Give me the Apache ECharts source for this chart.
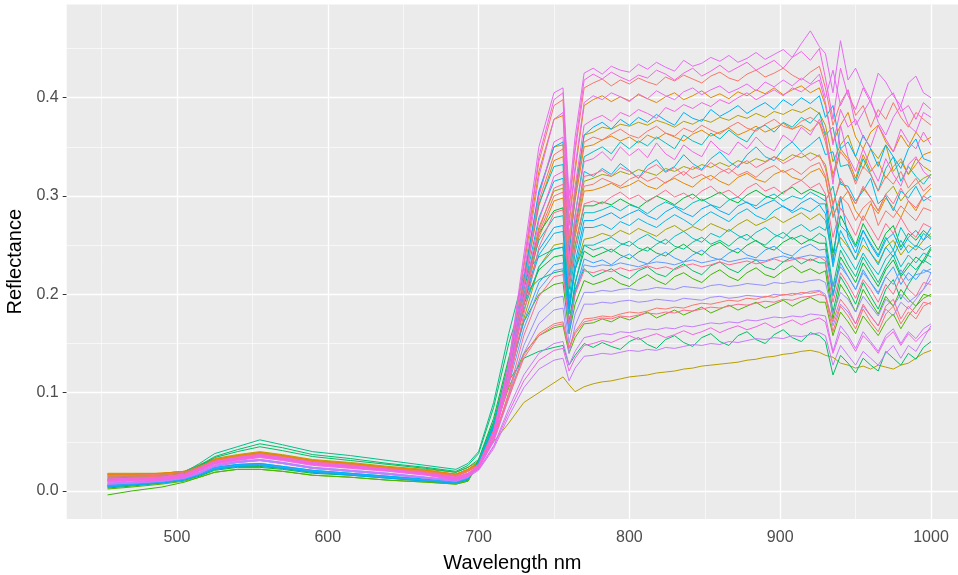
<!DOCTYPE html>
<html><head><meta charset="utf-8">
<script src="https://cdn.jsdelivr.net/npm/echarts@6/dist/echarts.min.js"></script>
<style>html,body{margin:0;padding:0;background:#fff}#c{width:958px;height:575px}</style>
</head><body><div id="c"></div>
<script>
const wavelengths = [454,470,490,505,515,525,540,555,570,590,615,640,665,685,693,700,710,720,730,740,750,756,760,764,770,776,782,788,794,800,806,812,818,824,830,836,842,848,854,860,866,872,878,884,890,896,902,908,914,920,926,930,935,940,945,950,955,960,965,970,975,980,985,990,995,1000];
// reflectance values in thousandths
const s01 = [12,13,14,17,23,30,34,37,34,29,26,22,18,14,18,26,60,130,240,350,405,410,300,360,425,430,424,432,428,426,434,429,436,431,427,438,432,435,441,437,443,436,440,446,439,444,449,441,455,468,452,445,405,458,418,430,412,398,425,416,402,392,415,422,405,400];
const s02 = [11,12,13,16,22,29,33,36,33,28,25,22,18,13,17,25,58,125,232,340,398,405,290,350,418,424,419,426,421,417,423,420,428,424,418,425,430,422,427,433,426,431,436,428,433,438,430,441,447,438,450,420,378,430,402,388,410,395,380,398,405,386,392,378,395,388];
const s03 = [16,16,17,19,25,31,35,38,35,30,27,23,20,16,21,27,62,128,230,335,392,398,285,345,410,415,419,412,418,414,420,416,413,421,417,423,419,415,422,426,420,417,424,428,421,425,430,423,418,426,432,410,372,395,408,382,392,370,388,378,395,380,370,385,378,372];
const s04 = [10,11,12,15,21,28,32,35,32,27,24,21,17,12,16,24,55,118,220,320,378,385,275,330,395,402,398,405,401,396,404,399,407,402,398,406,410,403,408,412,405,409,414,407,416,411,418,412,420,414,424,400,428,392,408,372,385,398,375,362,380,392,372,365,385,380];
const s05 = [17,17,18,20,26,32,36,39,36,31,28,24,21,17,22,28,64,130,228,325,378,382,270,325,392,398,402,396,401,397,403,399,395,401,405,398,402,407,400,404,399,406,402,408,404,410,403,408,412,405,410,392,355,372,385,360,348,365,372,355,345,362,350,365,355,360];
const s06 = [9,10,11,14,20,27,31,34,31,26,23,20,16,11,15,23,52,112,205,300,355,360,260,310,372,378,382,376,385,381,388,384,379,390,386,393,389,395,391,398,394,400,405,398,403,408,402,410,406,413,418,395,352,388,370,378,360,350,372,358,345,368,355,348,365,352];
const s07 = [6,8,10,13,18,24,27,28,25,21,18,15,12,10,14,26,62,125,215,305,350,355,240,300,362,370,375,368,378,372,380,375,383,377,372,385,379,376,388,381,386,392,384,390,395,388,398,392,400,394,402,380,392,348,355,340,362,348,330,352,340,328,348,358,338,335];
const s08 = [18,18,18,20,27,33,37,40,37,32,29,25,22,19,24,30,66,128,218,303,350,352,255,305,362,365,370,368,373,371,375,372,377,374,370,376,373,378,375,380,377,382,379,384,380,386,383,388,385,390,384,372,335,352,362,340,328,348,338,352,325,335,322,338,330,325];
const s09 = [15,15,16,18,24,30,34,37,34,29,26,22,19,15,20,26,60,120,210,295,342,348,250,300,355,360,357,363,368,362,359,366,371,364,361,369,365,372,367,363,370,375,369,366,373,378,371,368,376,380,374,355,318,345,335,312,330,322,305,320,312,325,308,318,305,312];
const s10 = [17,17,18,20,26,32,36,39,36,31,28,24,21,17,22,28,63,122,208,290,336,340,245,295,350,352,357,361,356,360,354,362,358,364,360,356,363,367,361,365,369,362,366,371,365,369,374,368,372,366,375,360,322,348,338,318,342,325,335,318,330,338,322,332,342,345];
const s11 = [5,7,9,12,17,23,26,27,24,20,17,14,11,9,13,28,66,130,215,292,330,332,220,280,340,345,350,343,355,348,356,351,360,354,348,362,356,352,364,358,367,360,355,368,372,365,375,370,380,374,385,362,370,330,332,315,338,322,305,328,340,315,330,320,312,322];
const s12 = [10,11,12,15,21,28,32,35,32,27,24,21,17,12,16,24,54,112,195,275,320,325,235,280,335,338,345,336,350,341,348,339,354,343,337,352,345,340,356,347,342,355,348,360,351,346,362,355,370,362,378,365,312,372,340,325,348,330,315,338,322,310,332,340,325,318];
const s13 = [11,12,13,16,22,29,33,36,33,28,25,22,18,13,17,25,55,110,190,265,308,312,230,272,320,322,326,320,329,325,318,327,332,324,329,321,330,326,334,328,323,331,336,329,334,340,333,338,344,336,342,328,290,318,305,292,310,298,285,302,292,308,295,288,300,295];
const s14 = [6,8,10,13,18,24,27,28,25,21,18,15,12,10,14,27,63,125,205,278,315,318,210,265,325,320,328,322,333,326,318,331,337,325,330,342,333,327,338,345,335,329,342,350,340,336,348,355,345,352,360,342,345,312,310,295,305,318,292,300,285,305,298,310,295,300];
const s15 = [16,16,17,19,25,31,35,38,35,30,27,23,20,16,21,28,62,118,195,268,305,308,225,268,315,318,322,320,325,322,327,324,321,328,325,330,327,332,329,334,330,336,333,338,335,340,336,342,339,344,340,332,292,315,305,292,308,298,285,302,310,295,305,312,318,322];
const s16 = [14,14,15,17,23,29,33,36,33,28,25,22,19,15,20,26,58,112,190,262,300,304,222,262,310,312,318,314,310,317,321,315,319,313,320,325,318,322,316,324,328,321,325,319,327,331,324,328,322,330,334,320,278,300,292,275,288,295,270,285,278,290,282,275,288,285];
const s17 = [17,17,18,20,26,32,36,39,36,31,28,24,21,17,22,28,62,115,188,258,295,298,218,258,305,306,309,313,308,311,316,310,307,314,318,313,309,317,321,315,311,319,323,317,314,322,326,319,316,324,328,318,280,295,305,285,275,292,282,298,288,278,295,285,300,308];
const s18 = [12,13,14,17,23,30,34,37,34,29,26,22,18,14,18,25,56,108,180,248,283,286,208,248,292,295,292,299,304,297,301,294,300,306,299,303,297,305,310,302,306,299,308,313,305,309,302,311,316,308,313,302,258,288,275,260,280,268,255,272,262,278,265,258,272,268];
const s19 = [4,6,9,12,16,22,25,25,23,19,17,14,11,9,12,30,70,130,205,262,285,288,205,250,290,290,294,291,297,292,288,295,300,296,291,298,302,295,299,304,297,293,301,306,300,297,304,309,302,307,303,300,242,280,265,250,272,258,245,262,270,248,262,255,265,258];
const s20 = [5,7,9,12,17,23,26,27,24,20,17,14,11,9,13,30,68,128,200,255,278,280,195,242,283,283,286,290,285,291,288,282,289,294,290,286,293,297,291,288,296,299,293,290,298,302,295,300,297,304,299,295,310,270,262,248,265,252,240,258,245,268,255,248,262,256];
const s21 = [4,6,8,11,16,22,25,26,23,19,16,13,10,8,12,28,64,122,192,245,268,270,185,232,275,275,279,283,277,282,286,280,276,284,289,283,279,287,291,285,281,290,294,287,292,296,289,285,293,298,292,292,232,300,258,242,265,250,238,255,262,245,258,265,255,268];
const s22 = [5,7,9,12,17,23,26,27,24,20,17,14,11,9,13,29,66,124,190,240,262,264,180,225,268,268,271,266,274,270,277,272,268,275,281,276,270,278,284,279,274,282,287,280,276,285,290,283,288,284,291,282,228,265,250,235,258,242,230,248,238,255,242,250,245,250];
const s23 = [15,15,16,18,24,30,34,37,34,29,26,22,19,15,20,28,60,112,175,228,250,252,185,225,256,258,262,259,265,261,267,263,259,266,270,264,269,265,272,268,264,271,276,270,274,279,273,278,283,276,282,275,238,258,248,235,250,242,232,248,255,240,250,245,255,262];
const s24 = [5,7,9,12,17,23,26,27,24,20,17,14,11,9,13,30,68,124,184,228,246,248,165,210,250,250,254,258,252,249,256,261,255,251,259,264,257,253,262,258,266,260,255,263,268,261,257,266,271,264,269,265,290,250,238,225,242,230,220,236,245,228,240,232,242,238];
const s25 = [14,15,16,19,28,38,45,52,47,40,36,31,26,22,28,40,90,160,220,238,246,248,190,225,250,245,248,243,250,254,247,244,251,256,249,246,253,258,251,255,249,257,261,254,250,258,263,256,260,255,262,258,208,245,230,218,238,225,212,228,240,220,232,225,235,230];
const s26 = [3,5,8,11,15,21,24,24,22,18,16,13,10,8,11,32,74,135,190,225,238,240,170,212,244,238,242,246,240,236,243,248,242,239,246,251,244,240,249,253,246,242,250,255,248,245,253,258,251,256,252,252,200,238,225,212,232,220,208,225,235,218,228,238,232,246];
const s27 = [5,7,9,12,17,23,26,27,24,20,17,14,11,9,13,28,62,115,172,212,230,232,160,202,236,232,235,230,237,241,234,231,238,243,237,233,240,245,238,235,242,247,240,237,245,249,242,239,247,251,245,246,198,232,218,205,225,212,200,218,228,210,222,215,225,222];
const s28 = [8,9,11,14,19,26,30,32,29,24,21,18,14,11,15,26,58,108,165,205,224,226,165,200,230,228,230,229,232,230,228,231,233,232,230,233,235,232,234,236,233,235,237,235,234,237,239,236,238,240,238,238,208,228,218,205,222,212,202,218,210,225,214,220,222,226];
const s29 = [11,12,13,16,22,29,33,36,33,28,25,22,18,13,17,24,52,100,158,198,218,220,170,200,224,222,225,223,227,224,226,229,226,228,225,229,231,228,230,233,230,232,234,231,233,236,233,235,237,234,238,234,192,222,210,196,215,205,192,210,200,218,205,198,212,210];
const s30 = [13,14,15,18,26,35,42,48,44,37,33,28,24,20,26,38,85,150,200,215,222,224,172,205,226,218,222,226,220,216,224,228,221,218,226,231,224,220,229,233,226,222,230,235,228,225,233,238,231,236,232,232,182,218,205,190,212,198,185,205,215,195,210,222,235,248];
const s31 = [-4,0,4,9,14,19,22,22,20,16,14,11,9,7,10,30,68,122,172,200,210,212,160,190,214,210,213,217,211,208,215,220,214,210,218,222,216,212,220,225,218,214,222,227,220,217,224,229,222,226,221,224,175,210,198,182,205,192,180,198,188,205,195,188,200,198];
const s32 = [7,8,10,13,18,25,29,31,28,23,20,17,13,10,14,24,52,98,148,182,196,198,150,180,202,202,204,203,205,206,204,205,207,206,205,208,207,206,209,210,208,209,211,210,209,212,211,213,212,214,215,212,180,202,195,182,198,188,178,195,188,200,192,198,205,215];
const s33 = [7,8,10,13,18,25,29,31,28,23,20,17,13,10,14,23,50,94,140,170,184,186,140,168,190,190,192,191,193,194,192,193,195,194,193,196,195,194,197,198,196,197,199,198,197,200,199,201,200,203,204,200,168,190,182,170,188,178,168,185,178,192,185,195,205,222];
const s34 = [10,11,12,15,21,28,32,35,32,27,24,21,17,12,16,24,52,95,135,158,168,170,145,160,172,174,176,175,178,177,179,181,180,182,181,184,183,185,187,186,188,190,189,191,193,192,195,194,197,198,200,198,172,195,185,170,190,178,168,188,195,175,188,180,192,190];
const s35 = [2,4,7,10,14,19,22,22,20,16,14,11,9,7,10,28,60,105,140,158,166,168,140,156,170,171,175,172,177,174,178,182,176,180,184,179,183,187,181,185,189,184,188,192,186,190,194,188,193,197,192,192,158,182,172,160,178,168,158,172,180,165,178,188,196,200];
const s36 = [12,13,14,17,23,30,34,37,34,29,26,22,18,14,18,25,54,98,138,160,170,172,146,162,175,176,178,177,180,182,181,183,186,185,187,186,189,191,190,192,194,193,196,195,198,197,200,199,202,201,203,198,162,188,178,165,185,172,162,180,188,170,182,175,188,192];
const s37 = [8,9,11,14,19,26,30,32,29,24,21,18,14,11,15,22,46,84,118,140,150,152,128,142,156,158,160,159,162,161,163,165,164,166,165,168,167,169,171,170,172,171,174,173,175,177,176,178,177,180,179,178,142,168,158,145,162,152,142,158,165,150,162,155,165,170];
const s38 = [10,11,12,15,21,28,32,35,32,27,24,21,17,12,16,22,45,80,112,133,143,145,122,135,148,150,153,151,155,158,154,157,160,156,159,163,159,162,166,161,165,168,164,167,171,166,170,174,169,173,176,172,140,162,155,142,158,150,140,155,162,148,160,152,160,165];
const s39 = [12,13,14,17,25,34,40,45,41,35,31,27,23,19,24,32,70,112,135,142,146,148,128,138,150,146,151,147,144,152,156,149,145,154,158,151,147,156,160,152,148,158,162,154,150,159,164,156,152,161,158,152,118,138,130,120,135,128,122,142,135,128,140,134,146,152];
const s40 = [7,8,10,13,18,25,29,31,28,23,20,17,13,10,14,21,43,76,105,124,133,135,112,125,137,138,140,139,141,143,142,144,143,146,145,147,149,148,150,149,152,151,153,155,154,156,155,158,157,159,161,158,128,148,138,128,142,135,128,140,148,135,148,142,155,168];
const s41 = [17,17,17,19,25,31,35,38,35,30,27,23,20,17,22,30,50,69,90,100,110,116,108,101,106,109,111,112,114,116,117,118,120,121,122,124,125,127,128,129,130,131,133,134,136,137,139,140,142,143,141,138,136,130,128,125,127,124,128,126,124,128,130,135,140,143];

const xTickValues = [500,600,700,800,900,1000];
const xMinorValues = [450,550,650,750,850,950];
const yTickValues = [0,0.1,0.2,0.3,0.4];
const yMinorValues = [0.05,0.15,0.25,0.35,0.45];

const lines = [s01,s02,s03,s04,s05,s06,s07,s08,s09,s10,s11,s12,s13,s14,s15,s16,s17,s18,s19,s20,s21,s22,s23,s24,s25,s26,s27,s28,s29,s30,s31,s32,s33,s34,s35,s36,s37,s38,s39,s40,s41];
const lineColors = ['#E76BF3','#F564E3','#F8766D','#E76BF3','#E58700','#F564E3','#00B0F6','#B79F00','#F8766D','#E58700','#00BFC4','#F564E3','#FF6C91','#00B8E7','#A3A500','#F8766D','#E58700','#FF6C91','#00BA38','#00BFC4','#00A9FF','#00B8E7','#A3A500','#00BFC4','#00C08B','#00BA38','#35A2FF','#619CFF','#FF6C91','#00BE67','#39B600','#9590FF','#A58AFF','#FF6C91','#53B400','#F8766D','#C77CFF','#F564E3','#00BE67','#C77CFF','#B79F00'];
const drawOrder = [41,8,15,23,5,10,17,19,26,31,35,25,30,39,11,20,24,14,22,7,21,27,28,32,33,37,40,3,9,16,36,18,13,29,34,1,4,2,6,12,38];

lines.forEach((a,i)=>{ if(a.length!==wavelengths.length) throw new Error('series '+(i+1)+' has '+a.length+' values'); });

const font = 'Liberation Sans, Arial, sans-serif';
const chart = echarts.init(document.getElementById('c'), null, {renderer:'canvas'});

const gridLines = [];
xTickValues.forEach(v=>gridLines.push({xAxis:v, lineStyle:{color:'#FFFFFF', width:1.3, type:'solid'}}));
xMinorValues.forEach(v=>gridLines.push({xAxis:v, lineStyle:{color:'#FFFFFF', width:0.6, type:'solid'}}));
yTickValues.forEach(v=>gridLines.push({yAxis:v, lineStyle:{color:'#FFFFFF', width:1.3, type:'solid'}}));
yMinorValues.forEach(v=>gridLines.push({yAxis:v, lineStyle:{color:'#FFFFFF', width:0.6, type:'solid'}}));

const series = [{
  type:'line', data:[], z:1, silent:true, animation:false,
  markLine:{ z:1, silent:true, animation:false, symbol:['none','none'], label:{show:false}, emphasis:{disabled:true}, data:gridLines }
}];
drawOrder.forEach(n=>{
  const vals = lines[n-1];
  series.push({
    type:'line', name:'s'+n, z:3, silent:true, animation:false,
    showSymbol:false, symbol:'none',
    data: wavelengths.map((w,i)=>[w, vals[i]/1000]),
    lineStyle:{color:lineColors[n-1], width:1},
    itemStyle:{color:lineColors[n-1]},
    emphasis:{disabled:true}
  });
});

chart.setOption({
  animation:false,
  backgroundColor:'#FFFFFF',
  grid:{left:66.7, right:0, top:4.5, bottom:56, show:true, backgroundColor:'#EBEBEB', borderWidth:0, outerBoundsMode:'none', containLabel:false},
  xAxis:{
    type:'value', min:426.9, max:1017.9,
    splitLine:{show:false}, axisLine:{show:false},
    axisTick:{show:true, length:4, lineStyle:{color:'#333333', width:1}, customValues:xTickValues},
    axisLabel:{customValues:xTickValues, color:'#4D4D4D', fontSize:16, margin:11, fontFamily:font, formatter:v=>String(Math.round(v))},
    name:'Wavelength nm', nameLocation:'middle', nameGap:34,
    nameTextStyle:{color:'#000000', fontSize:20, fontFamily:font}
  },
  yAxis:{
    type:'value', min:-0.0285, max:0.4948,
    splitLine:{show:false}, axisLine:{show:false},
    axisTick:{show:true, length:4, lineStyle:{color:'#333333', width:1}, customValues:yTickValues},
    axisLabel:{customValues:yTickValues, color:'#4D4D4D', fontSize:16, margin:8, fontFamily:font, formatter:v=>Number(v).toFixed(1)},
    name:'Reflectance', nameLocation:'middle', nameGap:38, nameRotate:90,
    nameTextStyle:{color:'#000000', fontSize:20, fontFamily:font}
  },
  series:series
});
</script>
</body></html>
